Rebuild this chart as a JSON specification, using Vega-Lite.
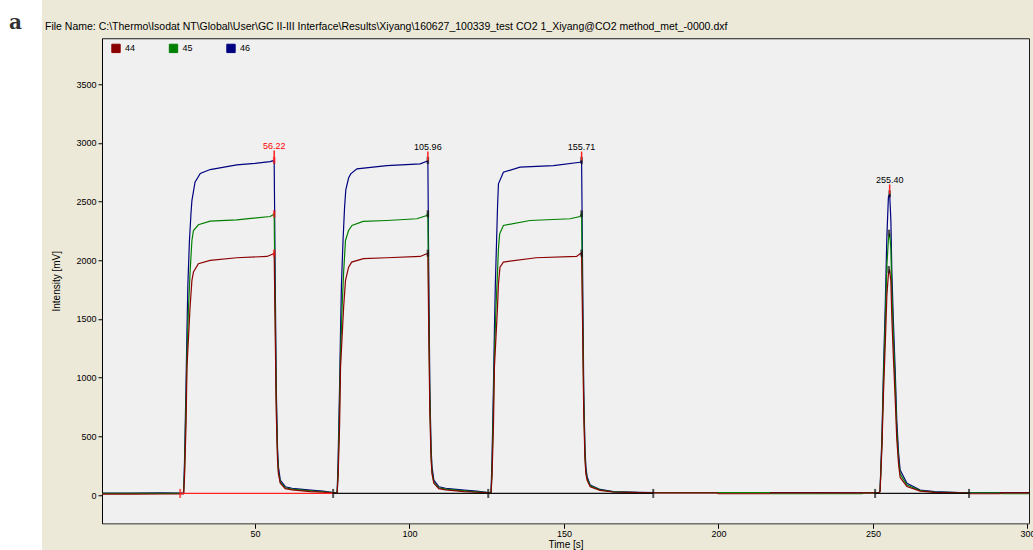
{
  "$schema": "https://vega.github.io/schema/vega-lite/v6.json",
  "background": "#ece9d8",
  "padding": 0,
  "spacing": 2,
  "center": true,
  "datasets": {
    "traces": [
      {"s":"46","t":0.5,"v":17},{"s":"46","t":10,"v":17},{"s":"46","t":20,"v":18},{"s":"46","t":26.5,"v":17},{"s":"46","t":26.9,"v":18},{"s":"46","t":27.2,"v":283},{"s":"46","t":27.7,"v":950},{"s":"46","t":28.0,"v":1403},{"s":"46","t":28.3,"v":1800},{"s":"46","t":28.8,"v":2168},{"s":"46","t":29.3,"v":2400},{"s":"46","t":29.6,"v":2508},{"s":"46","t":30.6,"v":2664},{"s":"46","t":32.3,"v":2738},{"s":"46","t":35.5,"v":2772},{"s":"46","t":44.1,"v":2812},{"s":"46","t":50,"v":2825},{"s":"46","t":54.9,"v":2840},{"s":"46","t":56.0,"v":2848},{"s":"46","t":56.22,"v":2850},{"s":"46","t":56.5,"v":2000},{"s":"46","t":56.9,"v":900},{"s":"46","t":57.3,"v":400},{"s":"46","t":57.6,"v":241},{"s":"46","t":58.2,"v":128},{"s":"46","t":59.8,"v":71},{"s":"46","t":62,"v":58},{"s":"46","t":64.6,"v":51},{"s":"46","t":68,"v":42},{"s":"46","t":72,"v":33},{"s":"46","t":75.3,"v":22},{"s":"46","t":76.6,"v":19},{"s":"46","t":76.9,"v":283},{"s":"46","t":77.4,"v":950},{"s":"46","t":77.7,"v":1403},{"s":"46","t":78.0,"v":1800},{"s":"46","t":78.5,"v":2168},{"s":"46","t":79.0,"v":2450},{"s":"46","t":79.4,"v":2600},{"s":"46","t":80.3,"v":2700},{"s":"46","t":81.0,"v":2735},{"s":"46","t":83.0,"v":2778},{"s":"46","t":92.7,"v":2806},{"s":"46","t":103.5,"v":2820},{"s":"46","t":105.6,"v":2843},{"s":"46","t":105.96,"v":2850},{"s":"46","t":106.2,"v":2000},{"s":"46","t":106.6,"v":900},{"s":"46","t":107.0,"v":400},{"s":"46","t":107.3,"v":241},{"s":"46","t":107.9,"v":128},{"s":"46","t":109.5,"v":71},{"s":"46","t":111.7,"v":58},{"s":"46","t":114.3,"v":51},{"s":"46","t":117.7,"v":42},{"s":"46","t":121.7,"v":33},{"s":"46","t":125.5,"v":22},{"s":"46","t":126.4,"v":19},{"s":"46","t":126.7,"v":283},{"s":"46","t":127.2,"v":950},{"s":"46","t":127.5,"v":1403},{"s":"46","t":127.8,"v":1800},{"s":"46","t":128.2,"v":2168},{"s":"46","t":128.5,"v":2450},{"s":"46","t":128.8,"v":2650},{"s":"46","t":130.4,"v":2749},{"s":"46","t":135.8,"v":2792},{"s":"46","t":146.6,"v":2806},{"s":"46","t":155.2,"v":2834},{"s":"46","t":155.71,"v":2850},{"s":"46","t":156.0,"v":2000},{"s":"46","t":156.4,"v":900},{"s":"46","t":156.8,"v":400},{"s":"46","t":157.1,"v":241},{"s":"46","t":157.5,"v":156},{"s":"46","t":158.5,"v":85},{"s":"46","t":161.7,"v":48},{"s":"46","t":166.0,"v":30},{"s":"46","t":174.6,"v":23},{"s":"46","t":180,"v":20},{"s":"46","t":200,"v":20},{"s":"46","t":230,"v":20},{"s":"46","t":252.0,"v":19},{"s":"46","t":252.3,"v":40},{"s":"46","t":252.9,"v":496},{"s":"46","t":253.4,"v":1063},{"s":"46","t":254.0,"v":1633},{"s":"46","t":254.5,"v":2197},{"s":"46","t":255.0,"v":2537},{"s":"46","t":255.4,"v":2565},{"s":"46","t":255.8,"v":2338},{"s":"46","t":256.1,"v":1913},{"s":"46","t":256.6,"v":1488},{"s":"46","t":257.2,"v":1063},{"s":"46","t":257.7,"v":638},{"s":"46","t":258.3,"v":355},{"s":"46","t":258.8,"v":213},{"s":"46","t":261.0,"v":100},{"s":"46","t":265.3,"v":43},{"s":"46","t":270,"v":30},{"s":"46","t":278,"v":22},{"s":"46","t":281,"v":20},{"s":"46","t":300.5,"v":20},

      {"s":"45","t":0.5,"v":14},{"s":"45","t":10,"v":14},{"s":"45","t":20,"v":15},{"s":"45","t":26.5,"v":15},{"s":"45","t":26.9,"v":16},{"s":"45","t":27.2,"v":200},{"s":"45","t":27.7,"v":800},{"s":"45","t":28.0,"v":1200},{"s":"45","t":28.5,"v":1600},{"s":"45","t":29.0,"v":1900},{"s":"45","t":29.6,"v":2168},{"s":"45","t":30.1,"v":2253},{"s":"45","t":31.7,"v":2302},{"s":"45","t":35.5,"v":2332},{"s":"45","t":44.1,"v":2344},{"s":"45","t":54.9,"v":2372},{"s":"45","t":56.0,"v":2390},{"s":"45","t":56.22,"v":2395},{"s":"45","t":56.5,"v":1700},{"s":"45","t":56.9,"v":800},{"s":"45","t":57.3,"v":350},{"s":"45","t":57.6,"v":200},{"s":"45","t":58.2,"v":110},{"s":"45","t":59.8,"v":62},{"s":"45","t":62,"v":50},{"s":"45","t":64.6,"v":44},{"s":"45","t":68,"v":36},{"s":"45","t":72,"v":28},{"s":"45","t":75.3,"v":20},{"s":"45","t":76.6,"v":18},{"s":"45","t":76.9,"v":200},{"s":"45","t":77.4,"v":800},{"s":"45","t":77.7,"v":1200},{"s":"45","t":78.2,"v":1600},{"s":"45","t":78.7,"v":1900},{"s":"45","t":79.3,"v":2168},{"s":"45","t":80.3,"v":2253},{"s":"45","t":81.4,"v":2296},{"s":"45","t":85.0,"v":2330},{"s":"45","t":92.7,"v":2338},{"s":"45","t":102.4,"v":2353},{"s":"45","t":105.6,"v":2381},{"s":"45","t":105.96,"v":2395},{"s":"45","t":106.2,"v":1700},{"s":"45","t":106.6,"v":800},{"s":"45","t":107.0,"v":350},{"s":"45","t":107.3,"v":200},{"s":"45","t":107.9,"v":110},{"s":"45","t":109.5,"v":62},{"s":"45","t":111.7,"v":50},{"s":"45","t":114.3,"v":44},{"s":"45","t":117.7,"v":36},{"s":"45","t":121.7,"v":28},{"s":"45","t":125.5,"v":20},{"s":"45","t":126.4,"v":18},{"s":"45","t":126.7,"v":200},{"s":"45","t":127.2,"v":800},{"s":"45","t":127.5,"v":1200},{"s":"45","t":128.0,"v":1600},{"s":"45","t":128.5,"v":1900},{"s":"45","t":128.8,"v":2100},{"s":"45","t":129.2,"v":2225},{"s":"45","t":130.4,"v":2296},{"s":"45","t":139.0,"v":2338},{"s":"45","t":152.0,"v":2353},{"s":"45","t":155.2,"v":2372},{"s":"45","t":155.71,"v":2395},{"s":"45","t":156.0,"v":1700},{"s":"45","t":156.4,"v":800},{"s":"45","t":156.8,"v":350},{"s":"45","t":157.1,"v":200},{"s":"45","t":157.5,"v":140},{"s":"45","t":158.5,"v":78},{"s":"45","t":161.7,"v":44},{"s":"45","t":166.0,"v":28},{"s":"45","t":174.6,"v":22},{"s":"45","t":180,"v":20},{"s":"45","t":216.7,"v":20},{"s":"45","t":217.2,"v":11},{"s":"45","t":246.5,"v":11},{"s":"45","t":247,"v":20},{"s":"45","t":252.0,"v":19},{"s":"45","t":252.3,"v":35},{"s":"45","t":252.9,"v":450},{"s":"45","t":253.4,"v":980},{"s":"45","t":254.0,"v":1500},{"s":"45","t":254.5,"v":1950},{"s":"45","t":255.0,"v":2180},{"s":"45","t":255.4,"v":2230},{"s":"45","t":255.8,"v":2100},{"s":"45","t":256.1,"v":1750},{"s":"45","t":256.6,"v":1350},{"s":"45","t":257.2,"v":950},{"s":"45","t":257.7,"v":560},{"s":"45","t":258.3,"v":300},{"s":"45","t":258.8,"v":180},{"s":"45","t":261.0,"v":85},{"s":"45","t":265.3,"v":38},{"s":"45","t":270,"v":26},{"s":"45","t":278,"v":20},{"s":"45","t":291,"v":19},{"s":"45","t":291.5,"v":11},{"s":"45","t":300.5,"v":11},

      {"s":"44","t":0.5,"v":8},{"s":"44","t":10,"v":8},{"s":"44","t":20,"v":9},{"s":"44","t":26.5,"v":9},{"s":"44","t":26.9,"v":10},{"s":"44","t":27.2,"v":150},{"s":"44","t":27.7,"v":600},{"s":"44","t":28.0,"v":1091},{"s":"44","t":28.5,"v":1346},{"s":"44","t":29.0,"v":1601},{"s":"44","t":29.6,"v":1828},{"s":"44","t":30.1,"v":1899},{"s":"44","t":31.7,"v":1970},{"s":"44","t":35.5,"v":1998},{"s":"44","t":44.1,"v":2021},{"s":"44","t":53.9,"v":2032},{"s":"44","t":56.0,"v":2055},{"s":"44","t":56.22,"v":2060},{"s":"44","t":56.5,"v":1500},{"s":"44","t":56.9,"v":700},{"s":"44","t":57.3,"v":300},{"s":"44","t":57.6,"v":180},{"s":"44","t":58.2,"v":100},{"s":"44","t":59.8,"v":55},{"s":"44","t":62,"v":45},{"s":"44","t":64.6,"v":38},{"s":"44","t":68,"v":30},{"s":"44","t":72,"v":24},{"s":"44","t":75.3,"v":18},{"s":"44","t":76.6,"v":16},{"s":"44","t":76.9,"v":150},{"s":"44","t":77.4,"v":600},{"s":"44","t":77.7,"v":1091},{"s":"44","t":78.2,"v":1346},{"s":"44","t":78.7,"v":1601},{"s":"44","t":79.3,"v":1828},{"s":"44","t":80.3,"v":1941},{"s":"44","t":81.3,"v":1984},{"s":"44","t":85.1,"v":2013},{"s":"44","t":92.7,"v":2021},{"s":"44","t":103.5,"v":2032},{"s":"44","t":105.6,"v":2055},{"s":"44","t":105.96,"v":2060},{"s":"44","t":106.2,"v":1500},{"s":"44","t":106.6,"v":700},{"s":"44","t":107.0,"v":300},{"s":"44","t":107.3,"v":180},{"s":"44","t":107.9,"v":100},{"s":"44","t":109.5,"v":55},{"s":"44","t":111.7,"v":45},{"s":"44","t":114.3,"v":38},{"s":"44","t":117.7,"v":30},{"s":"44","t":121.7,"v":24},{"s":"44","t":125.5,"v":18},{"s":"44","t":126.4,"v":16},{"s":"44","t":126.7,"v":150},{"s":"44","t":127.2,"v":600},{"s":"44","t":127.5,"v":1091},{"s":"44","t":128.0,"v":1346},{"s":"44","t":128.5,"v":1601},{"s":"44","t":128.8,"v":1800},{"s":"44","t":129.3,"v":1941},{"s":"44","t":130.4,"v":1984},{"s":"44","t":141.0,"v":2021},{"s":"44","t":154.1,"v":2032},{"s":"44","t":155.2,"v":2055},{"s":"44","t":155.71,"v":2060},{"s":"44","t":156.0,"v":1500},{"s":"44","t":156.4,"v":700},{"s":"44","t":156.8,"v":300},{"s":"44","t":157.1,"v":180},{"s":"44","t":157.5,"v":125},{"s":"44","t":158.5,"v":70},{"s":"44","t":161.7,"v":40},{"s":"44","t":166.0,"v":26},{"s":"44","t":174.6,"v":20},{"s":"44","t":180,"v":19},{"s":"44","t":199.5,"v":19},{"s":"44","t":200,"v":11},{"s":"44","t":216.7,"v":11},{"s":"44","t":217.2,"v":19},{"s":"44","t":252.0,"v":18},{"s":"44","t":252.3,"v":30},{"s":"44","t":252.9,"v":400},{"s":"44","t":253.4,"v":860},{"s":"44","t":254.0,"v":1300},{"s":"44","t":254.5,"v":1700},{"s":"44","t":255.0,"v":1880},{"s":"44","t":255.4,"v":1920},{"s":"44","t":255.8,"v":1820},{"s":"44","t":256.1,"v":1520},{"s":"44","t":256.6,"v":1180},{"s":"44","t":257.2,"v":820},{"s":"44","t":257.7,"v":480},{"s":"44","t":258.3,"v":260},{"s":"44","t":258.8,"v":150},{"s":"44","t":261.0,"v":72},{"s":"44","t":265.3,"v":33},{"s":"44","t":270,"v":23},{"s":"44","t":278,"v":18},{"s":"44","t":281,"v":17},{"s":"44","t":281.5,"v":11},{"s":"44","t":291,"v":11},{"s":"44","t":291.5,"v":18},{"s":"44","t":300.5,"v":18}
    ],
    "baselines": [
      {"peak":"first","t":25.8,"t2":75.3,"v":14},
      {"peak":"other","t":75.3,"t2":178.9,"v":14},
      {"peak":"other","t":250.7,"t2":281.1,"v":14}
    ],
    "bmarks": [
      {"peak":"first","t":25.8,"v":14},
      {"peak":"other","t":75.3,"v":14},
      {"peak":"other","t":125.5,"v":14},
      {"peak":"other","t":178.9,"v":14},
      {"peak":"other","t":250.7,"v":14},
      {"peak":"other","t":281.1,"v":14}
    ],
    "pmarks": [
      {"peak":"first","t":56.22,"v":2850},{"peak":"first","t":56.22,"v":2395},{"peak":"first","t":56.22,"v":2060},
      {"peak":"other","t":105.96,"v":2850},{"peak":"other","t":105.96,"v":2395},{"peak":"other","t":105.96,"v":2060},
      {"peak":"other","t":155.71,"v":2850},{"peak":"other","t":155.71,"v":2395},{"peak":"other","t":155.71,"v":2060},
      {"peak":"other","t":255.4,"v":2565},{"peak":"other","t":255.2,"v":2230},{"peak":"other","t":255.1,"v":1920}
    ],
    "labels": [
      {"peak":"first","t":56.22,"top":2850,"lv":2935,"lab":"56.22","ly":2976},
      {"peak":"other","t":105.96,"top":2850,"lv":2925,"lab":"105.96","ly":2965},
      {"peak":"other","t":155.71,"top":2850,"lv":2925,"lab":"155.71","ly":2968},
      {"peak":"other","t":255.4,"top":2565,"lv":2645,"lab":"255.40","ly":2685}
    ]
  },
  "hconcat": [
    {
      "width": 42,
      "height": 588,
      "view": {"fill": "#ffffff", "stroke": null},
      "title": {"text": "a", "anchor": "start", "frame": "group", "orient": "top", "offset": -33, "dx": 9, "font": "DejaVu Serif", "fontSize": 20, "fontWeight": "bold", "color": "#333333"},
      "data": {"values": []},
      "mark": "text",
      "encoding": {}
    },
    {
      "width": 927,
      "height": 485,
      "view": {"fill": "#f0f0f0", "stroke": "#1a1a1a"},
      "title": {
        "text": "File Name: C:\\Thermo\\Isodat NT\\Global\\User\\GC II-III Interface\\Results\\Xiyang\\160627_100339_test CO2 1_Xiyang@CO2 method_met_-0000.dxf",
        "anchor": "start", "frame": "bounds", "font": "Liberation Sans", "fontSize": 10.5, "fontWeight": "normal", "color": "#000000", "offset": 6, "dx": -7
      },
      "layer": [
        {
          "data": {"name": "traces"},
          "mark": {"type": "line", "strokeWidth": 1.2, "clip": true},
          "encoding": {
            "x": {"field": "t", "type": "quantitative", "scale": {"domain": [0.5, 300.5], "nice": false, "zero": false},
                  "axis": {"values": [50,100,150,200,250,300], "title": "Time [s]", "grid": false, "tickSize": 5, "tickColor": "#000000", "domainColor": "#808080", "labelFont": "Liberation Sans", "labelFontSize": 9, "labelColor": "#000000", "labelPadding": 1, "titleFont": "Liberation Sans", "titleFontSize": 10, "titleFontWeight": "normal", "titleColor": "#000000", "titlePadding": 1}},
            "y": {"field": "v", "type": "quantitative", "scale": {"domain": [-240, 3890], "nice": false, "zero": false},
                  "axis": {"values": [0,500,1000,1500,2000,2500,3000,3500], "format": "d", "title": "Intensity [mV]", "grid": false, "tickSize": 4, "tickColor": "#000000", "domainColor": "#000000", "labelFont": "Liberation Sans", "labelFontSize": 9, "labelColor": "#000000", "labelPadding": 2, "titleFont": "Liberation Sans", "titleFontSize": 10, "titleFontWeight": "normal", "titleColor": "#000000", "titlePadding": 14}},
            "color": {"field": "s", "type": "nominal", "scale": {"domain": ["44","45","46"], "range": ["#8b0000","#008000","#000080"]},
                      "legend": {"title": null, "orient": "none", "legendX": 111, "legendY": 43, "direction": "horizontal", "padding": 0, "symbolType": "square", "symbolSize": 70, "symbolStrokeWidth": 1, "labelFont": "Liberation Sans", "labelFontSize": 9, "labelColor": "#000000", "labelOffset": 4, "columnPadding": 30.5,
                                 "encode": {"symbols": {"update": {"fill": {"scale": "color", "field": "value"}, "stroke": {"value": "#000000"}, "fillOpacity": {"value": 1}}}}}}
          }
        },
        {
          "data": {"name": "baselines"},
          "transform": [{"filter": "datum.peak === 'first'"}],
          "mark": {"type": "rule", "color": "#ff2020", "strokeWidth": 1.2},
          "encoding": {"x": {"field": "t", "type": "quantitative"}, "x2": {"field": "t2"}, "y": {"field": "v", "type": "quantitative"}}
        },
        {
          "data": {"name": "baselines"},
          "transform": [{"filter": "datum.peak === 'other'"}],
          "mark": {"type": "rule", "color": "#111111", "strokeWidth": 1.4},
          "encoding": {"x": {"field": "t", "type": "quantitative"}, "x2": {"field": "t2"}, "y": {"field": "v", "type": "quantitative"}}
        },
        {
          "data": {"name": "bmarks"},
          "transform": [{"filter": "datum.peak === 'first'"}],
          "mark": {"type": "tick", "orient": "vertical", "color": "#ff2020", "size": 9, "thickness": 2},
          "encoding": {"x": {"field": "t", "type": "quantitative"}, "y": {"field": "v", "type": "quantitative"}}
        },
        {
          "data": {"name": "bmarks"},
          "transform": [{"filter": "datum.peak === 'other'"}],
          "mark": {"type": "tick", "orient": "vertical", "color": "#111111", "size": 9, "thickness": 2},
          "encoding": {"x": {"field": "t", "type": "quantitative"}, "y": {"field": "v", "type": "quantitative"}}
        },
        {
          "data": {"name": "pmarks"},
          "transform": [{"filter": "datum.peak === 'first'"}],
          "mark": {"type": "tick", "orient": "vertical", "color": "#ff1010", "size": 7, "thickness": 2.5},
          "encoding": {"x": {"field": "t", "type": "quantitative"}, "y": {"field": "v", "type": "quantitative"}}
        },
        {
          "data": {"name": "pmarks"},
          "transform": [{"filter": "datum.peak === 'other'"}],
          "mark": {"type": "tick", "orient": "vertical", "color": "#111111", "size": 7, "thickness": 2.5},
          "encoding": {"x": {"field": "t", "type": "quantitative"}, "y": {"field": "v", "type": "quantitative"}}
        },
        {
          "data": {"name": "labels"},
          "mark": {"type": "rule", "color": "#ff2020", "strokeWidth": 1.5},
          "encoding": {"x": {"field": "t", "type": "quantitative"}, "y": {"field": "top", "type": "quantitative"}, "y2": {"field": "lv"}}
        },
        {
          "data": {"name": "labels"},
          "transform": [{"filter": "datum.peak === 'first'"}],
          "mark": {"type": "text", "color": "#ff0000", "font": "Liberation Sans", "fontSize": 9, "baseline": "middle", "align": "center"},
          "encoding": {"x": {"field": "t", "type": "quantitative"}, "y": {"field": "ly", "type": "quantitative"}, "text": {"field": "lab"}}
        },
        {
          "data": {"name": "labels"},
          "transform": [{"filter": "datum.peak === 'other'"}],
          "mark": {"type": "text", "color": "#000000", "font": "Liberation Sans", "fontSize": 9, "baseline": "middle", "align": "center"},
          "encoding": {"x": {"field": "t", "type": "quantitative"}, "y": {"field": "ly", "type": "quantitative"}, "text": {"field": "lab"}}
        }
      ]
    }
  ]
}
